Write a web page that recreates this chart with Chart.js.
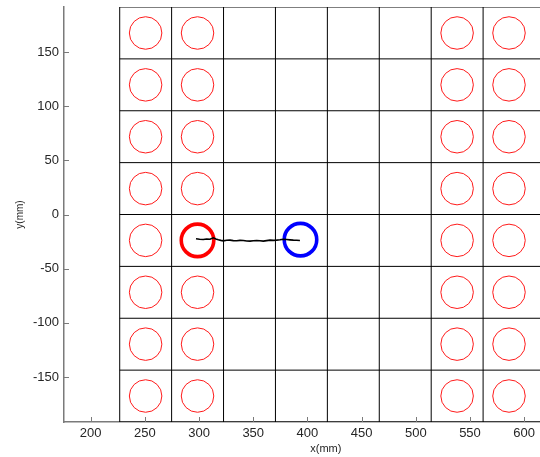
<!DOCTYPE html>
<html>
<head>
<meta charset="utf-8">
<script src="https://cdn.jsdelivr.net/npm/chart.js@4/dist/chart.umd.min.js"></script>
<style>
  html, body { margin: 0; padding: 0; background: #fff; }
  #wrap { width: 540px; height: 457px; }
</style>
</head>
<body>
<div id="wrap"><canvas id="c" width="540" height="457"></canvas></div>
<script>
// Board cell edges (mm)
const colEdges = [226.8, 274.7, 322.6, 370.5, 418.4, 466.3, 514.2, 562.1];
const rowEdges = [-191.6, -143.7, -95.8, -47.9, 0, 47.9, 95.8, 143.7, 191.6];

// Pad centres (mm): four columns of eight
const padCols = [250.7, 298.6, 538.1, 586.0];
const padRows = [167.6, 119.7, 71.8, 23.9, -23.9, -71.8, -119.7, -167.6];
const padRadius = 15;

// Start / end positions of the object (mm)
const startPos = { x: 298.6, y: -23.9 };
const endPos = { x: 393.6, y: -23.2 };

// Measured track (mm)
const trackX = [297.2, 300.5, 303.9, 307.0, 310.1, 313.2, 315.5, 317.8, 320.1, 322.4, 325.5, 328.6, 331.6, 334.7, 337.8, 340.9, 344.0, 347.0, 350.1, 353.2, 356.2, 359.3, 362.4, 365.5, 368.5, 371.6, 374.7, 377.8, 380.8, 383.9, 387.0, 390.0, 393.1];
const trackY = [-22.4, -22.9, -23.1, -22.6, -22.8, -21.5, -22.6, -23.4, -23.9, -24.3, -23.8, -23.7, -24.1, -24.3, -23.9, -24.0, -24.4, -24.6, -24.2, -24.0, -24.3, -24.6, -24.1, -23.7, -23.9, -23.7, -23.3, -22.8, -23.1, -23.4, -23.7, -23.8, -24.0];

// Axis ticks and ranges (mm)
const xTicks = [200, 250, 300, 350, 400, 450, 500, 550, 600];
const yTicks = [-150, -100, -50, 0, 50, 100, 150];
const xRange = [175.4, 614.6];
const yRange = [-191.6, 191.6];

const AXIS_GREY = '#7a7a7a';
const TEXT = '#262626';

// pixel radius for a length given in mm on the x scale
function mmToPx(chart, mm) {
  const s = chart.scales.x;
  return Math.abs(s.getPixelForValue(s.min + mm) - s.getPixelForValue(s.min));
}

const datasets = [];

// track
datasets.push({
  type: 'line',
  data: trackX.map((x, i) => ({ x, y: trackY[i] })),
  borderColor: '#000',
  borderWidth: 1.6,
  pointRadius: 0,
  tension: 0,
  order: 0
});

// start (red) and end (blue) markers
datasets.push({
  type: 'scatter',
  data: [startPos],
  pointStyle: 'circle',
  pointRadius: (ctx) => mmToPx(ctx.chart, padRadius),
  pointHoverRadius: (ctx) => mmToPx(ctx.chart, padRadius),
  pointBackgroundColor: 'rgba(0,0,0,0)',
  pointBorderColor: '#ff0000',
  pointBorderWidth: 3.6,
  order: 1
});
datasets.push({
  type: 'scatter',
  data: [endPos],
  pointStyle: 'circle',
  pointRadius: (ctx) => mmToPx(ctx.chart, padRadius),
  pointHoverRadius: (ctx) => mmToPx(ctx.chart, padRadius),
  pointBackgroundColor: 'rgba(0,0,0,0)',
  pointBorderColor: '#0000ff',
  pointBorderWidth: 3.6,
  order: 1
});

// pads
const pads = [];
padCols.forEach(x => padRows.forEach(y => pads.push({ x, y })));
datasets.push({
  type: 'scatter',
  data: pads,
  pointStyle: 'circle',
  pointRadius: (ctx) => mmToPx(ctx.chart, padRadius),
  pointHoverRadius: (ctx) => mmToPx(ctx.chart, padRadius),
  pointBackgroundColor: 'rgba(0,0,0,0)',
  pointBorderColor: '#ff1a1a',
  pointBorderWidth: 1,
  order: 2
});

// cell edges
colEdges.forEach(x => datasets.push({
  type: 'line',
  data: [{ x, y: yRange[0] }, { x, y: yRange[1] }],
  borderColor: '#000', borderWidth: 1, pointRadius: 0, order: 3
}));
rowEdges.forEach(y => datasets.push({
  type: 'line',
  data: [{ x: colEdges[0], y }, { x: xRange[1], y }],
  borderColor: '#000', borderWidth: 1, pointRadius: 0, order: 3
}));

// inward tick marks and axis titles
const axisDecor = {
  id: 'axisDecor',
  afterDatasetsDraw(chart) {
    const { ctx, chartArea, scales } = chart;
    ctx.save();
    ctx.strokeStyle = AXIS_GREY;
    ctx.lineWidth = 1;
    ctx.beginPath();
    xTicks.forEach(v => {
      const px = Math.round(scales.x.getPixelForValue(v)) + 0.5;
      ctx.moveTo(px, chartArea.bottom);
      ctx.lineTo(px, chartArea.bottom - 5);
    });
    yTicks.forEach(v => {
      const py = Math.round(scales.y.getPixelForValue(v)) + 0.5;
      ctx.moveTo(chartArea.left, py);
      ctx.lineTo(chartArea.left + 5, py);
    });
    ctx.stroke();

    ctx.fillStyle = TEXT;
    ctx.textAlign = 'center';
    ctx.textBaseline = 'middle';
    ctx.font = '11px "Liberation Sans", Arial, sans-serif';
    ctx.fillText('x(mm)', scales.x.getPixelForValue(417), chartArea.bottom + 27);

    ctx.translate(20, (chartArea.top + chartArea.bottom) / 2);
    ctx.rotate(-Math.PI / 2);
    ctx.font = '10px "Liberation Sans", Arial, sans-serif';
    ctx.fillText('y(mm)', 0, 0);
    ctx.restore();
  }
};

const tickFont = { family: '"Liberation Sans", Arial, sans-serif', size: 13 };

new Chart(document.getElementById('c'), {
  type: 'scatter',
  data: { datasets },
  options: {
    responsive: false,
    animation: false,
    events: [],
    layout: { padding: { top: 7, left: 0, right: 0, bottom: 0 } },
    plugins: { legend: { display: false }, tooltip: { enabled: false } },
    scales: {
      x: {
        type: 'linear',
        min: xRange[0],
        max: xRange[1],
        afterBuildTicks: (s) => { s.ticks = xTicks.map(value => ({ value })); },
        afterFit: (s) => { s.height = 35; s.paddingLeft = 0; s.paddingRight = 0; },
        ticks: { font: tickFont, color: TEXT, padding: 4, maxRotation: 0, autoSkip: false },
        grid: { display: true, drawOnChartArea: false, drawTicks: false },
        border: { display: true, color: AXIS_GREY, width: 1.5 }
      },
      y: {
        type: 'linear',
        min: yRange[0],
        max: yRange[1],
        afterBuildTicks: (s) => { s.ticks = yTicks.map(value => ({ value })); },
        afterFit: (s) => { s.width = 64; s.paddingTop = 0; s.paddingBottom = 0; },
        ticks: { font: tickFont, color: TEXT, padding: 5, autoSkip: false },
        grid: { display: true, drawOnChartArea: false, drawTicks: false },
        border: { display: true, color: AXIS_GREY, width: 1.5 }
      }
    }
  },
  plugins: [axisDecor]
});
</script>
</body>
</html>
